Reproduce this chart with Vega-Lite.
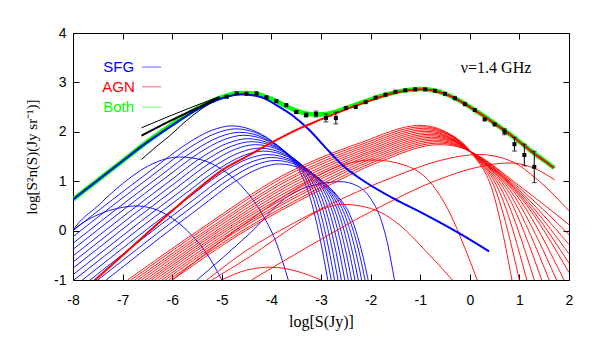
{
"$schema":"https://vega.github.io/schema/vega-lite/v6.json",
"width":496,"height":247,
"autosize":{"type":"none"},
"padding":{"left":73,"top":33,"right":29,"bottom":58},
"background":"white",
"config":{"view":{"stroke":"black","strokeWidth":1},"axis":{"grid":false,"domain":false,"tickColor":"black","labelColor":"black","titleColor":"black"}},
"datasets":{
"blue":[
{"c":"k0","x":-9.0,"y":-0.79},{"c":"k0","x":-8.0,"y":0.0},{"c":"k0","x":-7.2,"y":0.63},{"c":"k0","x":-6.4,"y":1.24},{"c":"k0","x":-5.7,"y":1.76},{"c":"k0","x":-5.2,"y":2.03},{"c":"k0","x":-4.8,"y":2.12},{"c":"k0","x":-4.3,"y":2.0},{"c":"k0","x":-3.9,"y":1.74},{"c":"k0","x":-3.6,"y":1.44},{"c":"k0","x":-3.4,"y":1.14},{"c":"k0","x":-3.2,"y":0.6},{"c":"k0","x":-3.02,"y":-0.16},{"c":"k0","x":-2.85,"y":-1.08},
{"c":"k1","x":-8.92,"y":-0.85},{"c":"k1","x":-7.92,"y":-0.06},{"c":"k1","x":-7.12,"y":0.57},{"c":"k1","x":-6.32,"y":1.18},{"c":"k1","x":-5.62,"y":1.7},{"c":"k1","x":-5.12,"y":1.97},{"c":"k1","x":-4.72,"y":2.06},{"c":"k1","x":-4.22,"y":1.94},{"c":"k1","x":-3.82,"y":1.68},{"c":"k1","x":-3.52,"y":1.38},{"c":"k1","x":-3.32,"y":1.08},{"c":"k1","x":-3.12,"y":0.54},{"c":"k1","x":-2.94,"y":-0.22},{"c":"k1","x":-2.77,"y":-1.14},
{"c":"k2","x":-8.84,"y":-0.92},{"c":"k2","x":-7.84,"y":-0.13},{"c":"k2","x":-7.04,"y":0.5},{"c":"k2","x":-6.24,"y":1.11},{"c":"k2","x":-5.54,"y":1.63},{"c":"k2","x":-5.04,"y":1.9},{"c":"k2","x":-4.64,"y":1.99},{"c":"k2","x":-4.14,"y":1.87},{"c":"k2","x":-3.74,"y":1.61},{"c":"k2","x":-3.44,"y":1.31},{"c":"k2","x":-3.24,"y":1.01},{"c":"k2","x":-3.04,"y":0.47},{"c":"k2","x":-2.86,"y":-0.29},{"c":"k2","x":-2.69,"y":-1.21},
{"c":"k3","x":-8.76,"y":-0.98},{"c":"k3","x":-7.76,"y":-0.19},{"c":"k3","x":-6.96,"y":0.44},{"c":"k3","x":-6.16,"y":1.05},{"c":"k3","x":-5.46,"y":1.57},{"c":"k3","x":-4.96,"y":1.84},{"c":"k3","x":-4.56,"y":1.93},{"c":"k3","x":-4.06,"y":1.81},{"c":"k3","x":-3.66,"y":1.55},{"c":"k3","x":-3.36,"y":1.25},{"c":"k3","x":-3.16,"y":0.95},{"c":"k3","x":-2.96,"y":0.41},{"c":"k3","x":-2.78,"y":-0.35},{"c":"k3","x":-2.61,"y":-1.27},
{"c":"k4","x":-8.68,"y":-1.05},{"c":"k4","x":-7.68,"y":-0.26},{"c":"k4","x":-6.88,"y":0.37},{"c":"k4","x":-6.08,"y":0.98},{"c":"k4","x":-5.38,"y":1.5},{"c":"k4","x":-4.88,"y":1.77},{"c":"k4","x":-4.48,"y":1.86},{"c":"k4","x":-3.98,"y":1.74},{"c":"k4","x":-3.58,"y":1.48},{"c":"k4","x":-3.28,"y":1.18},{"c":"k4","x":-3.08,"y":0.88},{"c":"k4","x":-2.88,"y":0.34},{"c":"k4","x":-2.7,"y":-0.42},{"c":"k4","x":-2.53,"y":-1.34},
{"c":"k5","x":-8.6,"y":-1.11},{"c":"k5","x":-7.6,"y":-0.32},{"c":"k5","x":-6.8,"y":0.31},{"c":"k5","x":-6.0,"y":0.92},{"c":"k5","x":-5.3,"y":1.44},{"c":"k5","x":-4.8,"y":1.71},{"c":"k5","x":-4.4,"y":1.8},{"c":"k5","x":-3.9,"y":1.68},{"c":"k5","x":-3.5,"y":1.42},{"c":"k5","x":-3.2,"y":1.12},{"c":"k5","x":-3.0,"y":0.82},{"c":"k5","x":-2.8,"y":0.28},{"c":"k5","x":-2.62,"y":-0.48},{"c":"k5","x":-2.45,"y":-1.4},
{"c":"k6","x":-8.52,"y":-1.17},{"c":"k6","x":-7.52,"y":-0.38},{"c":"k6","x":-6.72,"y":0.25},{"c":"k6","x":-5.92,"y":0.86},{"c":"k6","x":-5.22,"y":1.38},{"c":"k6","x":-4.72,"y":1.65},{"c":"k6","x":-4.32,"y":1.74},{"c":"k6","x":-3.82,"y":1.62},{"c":"k6","x":-3.42,"y":1.36},{"c":"k6","x":-3.12,"y":1.06},{"c":"k6","x":-2.92,"y":0.76},{"c":"k6","x":-2.72,"y":0.22},{"c":"k6","x":-2.54,"y":-0.54},{"c":"k6","x":-2.37,"y":-1.46},
{"c":"k7","x":-8.44,"y":-1.24},{"c":"k7","x":-7.44,"y":-0.45},{"c":"k7","x":-6.64,"y":0.18},{"c":"k7","x":-5.84,"y":0.79},{"c":"k7","x":-5.14,"y":1.31},{"c":"k7","x":-4.64,"y":1.58},{"c":"k7","x":-4.24,"y":1.67},{"c":"k7","x":-3.74,"y":1.55},{"c":"k7","x":-3.34,"y":1.29},{"c":"k7","x":-3.04,"y":0.99},{"c":"k7","x":-2.84,"y":0.69},{"c":"k7","x":-2.64,"y":0.15},{"c":"k7","x":-2.46,"y":-0.61},{"c":"k7","x":-2.29,"y":-1.53},
{"c":"k8","x":-8.36,"y":-1.3},{"c":"k8","x":-7.36,"y":-0.51},{"c":"k8","x":-6.56,"y":0.12},{"c":"k8","x":-5.76,"y":0.73},{"c":"k8","x":-5.06,"y":1.25},{"c":"k8","x":-4.56,"y":1.52},{"c":"k8","x":-4.16,"y":1.61},{"c":"k8","x":-3.66,"y":1.49},{"c":"k8","x":-3.26,"y":1.23},{"c":"k8","x":-2.96,"y":0.93},{"c":"k8","x":-2.76,"y":0.63},{"c":"k8","x":-2.56,"y":0.09},{"c":"k8","x":-2.38,"y":-0.67},{"c":"k8","x":-2.21,"y":-1.59},
{"c":"k9","x":-8.28,"y":-1.37},{"c":"k9","x":-7.28,"y":-0.58},{"c":"k9","x":-6.48,"y":0.05},{"c":"k9","x":-5.68,"y":0.66},{"c":"k9","x":-4.98,"y":1.18},{"c":"k9","x":-4.48,"y":1.45},{"c":"k9","x":-4.08,"y":1.54},{"c":"k9","x":-3.58,"y":1.42},{"c":"k9","x":-3.18,"y":1.16},{"c":"k9","x":-2.88,"y":0.86},{"c":"k9","x":-2.68,"y":0.56},{"c":"k9","x":-2.48,"y":0.02},{"c":"k9","x":-2.3,"y":-0.74},{"c":"k9","x":-2.13,"y":-1.66},
{"c":"k10","x":-8.2,"y":-1.43},{"c":"k10","x":-7.2,"y":-0.64},{"c":"k10","x":-6.4,"y":-0.01},{"c":"k10","x":-5.6,"y":0.6},{"c":"k10","x":-4.9,"y":1.12},{"c":"k10","x":-4.4,"y":1.39},{"c":"k10","x":-4.0,"y":1.48},{"c":"k10","x":-3.5,"y":1.36},{"c":"k10","x":-3.1,"y":1.1},{"c":"k10","x":-2.8,"y":0.8},{"c":"k10","x":-2.6,"y":0.5},{"c":"k10","x":-2.4,"y":-0.04},{"c":"k10","x":-2.22,"y":-0.8},{"c":"k10","x":-2.05,"y":-1.72},
{"c":"k11","x":-8.12,"y":-1.49},{"c":"k11","x":-7.12,"y":-0.7},{"c":"k11","x":-6.32,"y":-0.07},{"c":"k11","x":-5.52,"y":0.54},{"c":"k11","x":-4.82,"y":1.06},{"c":"k11","x":-4.32,"y":1.33},{"c":"k11","x":-3.92,"y":1.42},{"c":"k11","x":-3.42,"y":1.3},{"c":"k11","x":-3.02,"y":1.04},{"c":"k11","x":-2.72,"y":0.74},{"c":"k11","x":-2.52,"y":0.44},{"c":"k11","x":-2.32,"y":-0.1},{"c":"k11","x":-2.14,"y":-0.86},{"c":"k11","x":-1.97,"y":-1.78},
{"c":"k12","x":-8.04,"y":-1.56},{"c":"k12","x":-7.04,"y":-0.77},{"c":"k12","x":-6.24,"y":-0.14},{"c":"k12","x":-5.44,"y":0.47},{"c":"k12","x":-4.74,"y":0.99},{"c":"k12","x":-4.24,"y":1.26},{"c":"k12","x":-3.84,"y":1.35},{"c":"k12","x":-3.34,"y":1.23},{"c":"k12","x":-2.94,"y":0.97},{"c":"k12","x":-2.64,"y":0.67},{"c":"k12","x":-2.44,"y":0.37},{"c":"k12","x":-2.24,"y":-0.19},{"c":"k12","x":-2.06,"y":-0.95},{"c":"k12","x":-1.89,"y":-1.87},
{"c":"ba","x":-8.3,"y":-0.35},{"c":"ba","x":-8.0,"y":0.0},{"c":"ba","x":-7.5,"y":0.32},{"c":"ba","x":-7.0,"y":0.47},{"c":"ba","x":-6.75,"y":0.5},{"c":"ba","x":-6.4,"y":0.45},{"c":"ba","x":-6.0,"y":0.25},{"c":"ba","x":-5.6,"y":-0.1},{"c":"ba","x":-5.3,"y":-0.47},{"c":"ba","x":-5.0,"y":-1.0},
{"c":"bb","x":-8.3,"y":-0.6},{"c":"bb","x":-8.0,"y":0.0},{"c":"bb","x":-7.5,"y":0.5},{"c":"bb","x":-7.0,"y":0.95},{"c":"bb","x":-6.5,"y":1.3},{"c":"bb","x":-6.1,"y":1.46},{"c":"bb","x":-5.85,"y":1.49},{"c":"bb","x":-5.4,"y":1.43},{"c":"bb","x":-5.0,"y":1.24},{"c":"bb","x":-4.6,"y":0.9},{"c":"bb","x":-4.2,"y":0.36},{"c":"bb","x":-3.9,"y":-0.25},{"c":"bb","x":-3.66,"y":-1.0},
{"c":"bc","x":-5.5,"y":-1.0},{"c":"bc","x":-4.44,"y":-0.06},{"c":"bc","x":-3.63,"y":0.72},{"c":"bc","x":-3.0,"y":0.95},{"c":"bc","x":-2.6,"y":0.99},{"c":"bc","x":-2.3,"y":0.92},{"c":"bc","x":-2.0,"y":0.65},{"c":"bc","x":-1.8,"y":0.25},{"c":"bc","x":-1.65,"y":-0.3},{"c":"bc","x":-1.52,"y":-1.0}
],
"red":[
{"c":"j0","x":-6.9,"y":-1.0},{"c":"j0","x":-5.3,"y":0.12},{"c":"j0","x":-3.8,"y":1.1},{"c":"j0","x":-2.2,"y":1.78},{"c":"j0","x":-1.0,"y":2.13},{"c":"j0","x":-0.45,"y":1.98},{"c":"j0","x":0.07,"y":1.53},{"c":"j0","x":0.46,"y":0.8},{"c":"j0","x":0.85,"y":-1.0},
{"c":"j1","x":-6.83,"y":-1.0},{"c":"j1","x":-5.25,"y":0.11},{"c":"j1","x":-3.75,"y":1.08},{"c":"j1","x":-2.17,"y":1.75},{"c":"j1","x":-0.97,"y":2.1},{"c":"j1","x":-0.43,"y":1.96},{"c":"j1","x":0.07,"y":1.53},{"c":"j1","x":0.535,"y":0.78},{"c":"j1","x":1.0,"y":-1.0},
{"c":"j2","x":-6.76,"y":-1.0},{"c":"j2","x":-5.19,"y":0.09},{"c":"j2","x":-3.69,"y":1.05},{"c":"j2","x":-2.14,"y":1.72},{"c":"j2","x":-0.94,"y":2.07},{"c":"j2","x":-0.42,"y":1.94},{"c":"j2","x":0.07,"y":1.54},{"c":"j2","x":0.61,"y":0.76},{"c":"j2","x":1.15,"y":-1.0},
{"c":"j3","x":-6.69,"y":-1.0},{"c":"j3","x":-5.14,"y":0.08},{"c":"j3","x":-3.64,"y":1.03},{"c":"j3","x":-2.11,"y":1.69},{"c":"j3","x":-0.91,"y":2.04},{"c":"j3","x":-0.4,"y":1.92},{"c":"j3","x":0.07,"y":1.54},{"c":"j3","x":0.685,"y":0.74},{"c":"j3","x":1.3,"y":-1.0},
{"c":"j4","x":-6.62,"y":-1.0},{"c":"j4","x":-5.08,"y":0.07},{"c":"j4","x":-3.58,"y":1.0},{"c":"j4","x":-2.08,"y":1.66},{"c":"j4","x":-0.88,"y":2.01},{"c":"j4","x":-0.39,"y":1.89},{"c":"j4","x":0.07,"y":1.54},{"c":"j4","x":0.76,"y":0.72},{"c":"j4","x":1.45,"y":-1.0},
{"c":"j5","x":-6.55,"y":-1.0},{"c":"j5","x":-5.03,"y":0.05},{"c":"j5","x":-3.53,"y":0.98},{"c":"j5","x":-2.05,"y":1.63},{"c":"j5","x":-0.85,"y":1.98},{"c":"j5","x":-0.37,"y":1.87},{"c":"j5","x":0.07,"y":1.55},{"c":"j5","x":0.835,"y":0.7},{"c":"j5","x":1.6,"y":-1.0},
{"c":"j6","x":-6.48,"y":-1.0},{"c":"j6","x":-4.98,"y":0.04},{"c":"j6","x":-3.48,"y":0.95},{"c":"j6","x":-2.02,"y":1.6},{"c":"j6","x":-0.82,"y":1.95},{"c":"j6","x":-0.36,"y":1.85},{"c":"j6","x":0.07,"y":1.55},{"c":"j6","x":0.91,"y":0.68},{"c":"j6","x":1.75,"y":-1.0},
{"c":"j7","x":-6.42,"y":-1.0},{"c":"j7","x":-4.92,"y":0.03},{"c":"j7","x":-3.42,"y":0.93},{"c":"j7","x":-1.98,"y":1.58},{"c":"j7","x":-0.8,"y":1.92},{"c":"j7","x":-0.34,"y":1.83},{"c":"j7","x":0.07,"y":1.55},{"c":"j7","x":0.985,"y":0.66},{"c":"j7","x":1.9,"y":-1.0},
{"c":"j8","x":-6.35,"y":-1.0},{"c":"j8","x":-4.87,"y":0.02},{"c":"j8","x":-3.37,"y":0.9},{"c":"j8","x":-1.95,"y":1.55},{"c":"j8","x":-0.77,"y":1.89},{"c":"j8","x":-0.33,"y":1.81},{"c":"j8","x":0.07,"y":1.55},{"c":"j8","x":1.035,"y":0.66},{"c":"j8","x":2.0,"y":-0.85},
{"c":"j9","x":-6.28,"y":-1.0},{"c":"j9","x":-4.82,"y":0.0},{"c":"j9","x":-3.32,"y":0.88},{"c":"j9","x":-1.92,"y":1.52},{"c":"j9","x":-0.74,"y":1.86},{"c":"j9","x":-0.31,"y":1.79},{"c":"j9","x":0.07,"y":1.56},{"c":"j9","x":1.035,"y":0.7},{"c":"j9","x":2.0,"y":-0.66},
{"c":"j10","x":-6.21,"y":-1.0},{"c":"j10","x":-4.76,"y":-0.01},{"c":"j10","x":-3.26,"y":0.85},{"c":"j10","x":-1.89,"y":1.49},{"c":"j10","x":-0.71,"y":1.83},{"c":"j10","x":-0.3,"y":1.76},{"c":"j10","x":0.07,"y":1.56},{"c":"j10","x":1.035,"y":0.74},{"c":"j10","x":2.0,"y":-0.47},
{"c":"j11","x":-6.14,"y":-1.0},{"c":"j11","x":-4.71,"y":-0.02},{"c":"j11","x":-3.21,"y":0.83},{"c":"j11","x":-1.86,"y":1.46},{"c":"j11","x":-0.68,"y":1.8},{"c":"j11","x":-0.28,"y":1.74},{"c":"j11","x":0.07,"y":1.56},{"c":"j11","x":1.035,"y":0.78},{"c":"j11","x":2.0,"y":-0.28},
{"c":"j12","x":-6.07,"y":-1.0},{"c":"j12","x":-4.65,"y":-0.04},{"c":"j12","x":-3.15,"y":0.8},{"c":"j12","x":-1.83,"y":1.43},{"c":"j12","x":-0.65,"y":1.77},{"c":"j12","x":-0.27,"y":1.72},{"c":"j12","x":0.07,"y":1.57},{"c":"j12","x":1.035,"y":0.83},{"c":"j12","x":2.0,"y":-0.08},
{"c":"j13","x":-6.0,"y":-1.0},{"c":"j13","x":-4.6,"y":-0.05},{"c":"j13","x":-3.1,"y":0.78},{"c":"j13","x":-1.8,"y":1.4},{"c":"j13","x":-0.62,"y":1.74},{"c":"j13","x":-0.25,"y":1.7},{"c":"j13","x":0.07,"y":1.57},{"c":"j13","x":1.035,"y":0.88},{"c":"j13","x":2.0,"y":0.12},
{"c":"ra","x":-5.0,"y":-1.0},{"c":"ra","x":-4.5,"y":-0.8},{"c":"ra","x":-4.0,"y":-0.74},{"c":"ra","x":-3.5,"y":-0.82},{"c":"ra","x":-3.0,"y":-1.0},
{"c":"rb","x":-5.2,"y":-1.0},{"c":"rb","x":-4.44,"y":-0.53},{"c":"rb","x":-3.5,"y":0.12},{"c":"rb","x":-3.0,"y":0.42},{"c":"rb","x":-2.55,"y":0.53},{"c":"rb","x":-2.0,"y":0.45},{"c":"rb","x":-1.4,"y":0.1},{"c":"rb","x":-0.9,"y":-0.4},{"c":"rb","x":-0.35,"y":-1.0},
{"c":"rc","x":-6.0,"y":-1.0},{"c":"rc","x":-4.44,"y":0.21},{"c":"rc","x":-3.5,"y":0.85},{"c":"rc","x":-2.7,"y":1.28},{"c":"rc","x":-1.95,"y":1.43},{"c":"rc","x":-1.3,"y":1.32},{"c":"rc","x":-0.8,"y":0.98},{"c":"rc","x":-0.4,"y":0.35},{"c":"rc","x":-0.1,"y":-0.35},{"c":"rc","x":0.15,"y":-1.0},
{"c":"rd","x":-5.3,"y":-1.0},{"c":"rd","x":-4.5,"y":-0.4},{"c":"rd","x":-3.63,"y":0.11},{"c":"rd","x":-2.5,"y":0.68},{"c":"rd","x":-1.5,"y":1.1},{"c":"rd","x":-0.6,"y":1.42},{"c":"rd","x":0.2,"y":1.54},{"c":"rd","x":0.8,"y":1.42},{"c":"rd","x":1.4,"y":1.0},{"c":"rd","x":2.0,"y":0.4},
{"c":"re","x":-4.4,"y":-1.0},{"c":"re","x":-3.3,"y":-0.35},{"c":"re","x":-2.0,"y":0.38},{"c":"re","x":-0.61,"y":1.04},{"c":"re","x":0.1,"y":1.27},{"c":"re","x":0.8,"y":1.37},{"c":"re","x":1.2,"y":1.3},{"c":"re","x":1.71,"y":1.03}
],
"tot":[
{"c":"both","x":-8.0,"y":0.63},{"c":"both","x":-7.5,"y":1.02},{"c":"both","x":-7.0,"y":1.41},{"c":"both","x":-6.5,"y":1.8},{"c":"both","x":-6.0,"y":2.15},{"c":"both","x":-5.5,"y":2.47},{"c":"both","x":-5.0,"y":2.7},{"c":"both","x":-4.7,"y":2.78},{"c":"both","x":-4.5,"y":2.785},{"c":"both","x":-4.3,"y":2.77},{"c":"both","x":-4.1,"y":2.7},{"c":"both","x":-3.9,"y":2.62},{"c":"both","x":-3.7,"y":2.52},{"c":"both","x":-3.5,"y":2.43},{"c":"both","x":-3.3,"y":2.37},{"c":"both","x":-3.1,"y":2.35},{"c":"both","x":-2.9,"y":2.36},{"c":"both","x":-2.7,"y":2.41},{"c":"both","x":-2.5,"y":2.48},{"c":"both","x":-2.3,"y":2.55},{"c":"both","x":-2.1,"y":2.62},{"c":"both","x":-1.9,"y":2.69},{"c":"both","x":-1.7,"y":2.75},{"c":"both","x":-1.5,"y":2.8},{"c":"both","x":-1.3,"y":2.84},{"c":"both","x":-1.1,"y":2.855},{"c":"both","x":-1.0,"y":2.865},{"c":"both","x":-0.9,"y":2.86},{"c":"both","x":-0.7,"y":2.83},{"c":"both","x":-0.5,"y":2.77},{"c":"both","x":-0.3,"y":2.68},{"c":"both","x":-0.1,"y":2.57},{"c":"both","x":0.1,"y":2.44},{"c":"both","x":0.3,"y":2.31},{"c":"both","x":0.5,"y":2.17},{"c":"both","x":0.7,"y":2.03},{"c":"both","x":0.9,"y":1.88},{"c":"both","x":1.1,"y":1.72},{"c":"both","x":1.3,"y":1.56},{"c":"both","x":1.5,"y":1.42},{"c":"both","x":1.7,"y":1.27},
{"c":"sfg","x":-8.0,"y":0.63},{"c":"sfg","x":-7.5,"y":1.02},{"c":"sfg","x":-7.0,"y":1.41},{"c":"sfg","x":-6.5,"y":1.79},{"c":"sfg","x":-6.0,"y":2.13},{"c":"sfg","x":-5.5,"y":2.45},{"c":"sfg","x":-5.0,"y":2.68},{"c":"sfg","x":-4.6,"y":2.76},{"c":"sfg","x":-4.2,"y":2.7},{"c":"sfg","x":-3.9,"y":2.54},{"c":"sfg","x":-3.56,"y":2.32},{"c":"sfg","x":-3.23,"y":2.03},{"c":"sfg","x":-2.89,"y":1.66},{"c":"sfg","x":-2.55,"y":1.31},{"c":"sfg","x":-2.22,"y":1.06},{"c":"sfg","x":-1.54,"y":0.65},{"c":"sfg","x":-0.87,"y":0.31},{"c":"sfg","x":-0.2,"y":-0.06},{"c":"sfg","x":0.39,"y":-0.42},
{"c":"agn","x":-7.6,"y":-1.04},{"c":"agn","x":-7.0,"y":-0.5},{"c":"agn","x":-6.5,"y":-0.05},{"c":"agn","x":-6.0,"y":0.4},{"c":"agn","x":-5.5,"y":0.83},{"c":"agn","x":-5.0,"y":1.22},{"c":"agn","x":-4.5,"y":1.5},{"c":"agn","x":-4.0,"y":1.78},{"c":"agn","x":-3.43,"y":2.07},{"c":"agn","x":-3.0,"y":2.25},{"c":"agn","x":-2.56,"y":2.43},{"c":"agn","x":-2.1,"y":2.6},{"c":"agn","x":-1.9,"y":2.67},{"c":"agn","x":-1.7,"y":2.74},{"c":"agn","x":-1.5,"y":2.79},{"c":"agn","x":-1.3,"y":2.83},{"c":"agn","x":-1.1,"y":2.85},{"c":"agn","x":-1.0,"y":2.86},{"c":"agn","x":-0.9,"y":2.855},{"c":"agn","x":-0.7,"y":2.825},{"c":"agn","x":-0.5,"y":2.765},{"c":"agn","x":-0.3,"y":2.675},{"c":"agn","x":-0.1,"y":2.565},{"c":"agn","x":0.1,"y":2.435},{"c":"agn","x":0.3,"y":2.305},{"c":"agn","x":0.5,"y":2.165},{"c":"agn","x":0.7,"y":2.025},{"c":"agn","x":0.9,"y":1.875},{"c":"agn","x":1.1,"y":1.715},{"c":"agn","x":1.3,"y":1.555},{"c":"agn","x":1.5,"y":1.415},{"c":"agn","x":1.7,"y":1.265}
],
"blk":[
{"c":"t1","x":-6.62,"y":2.08},{"c":"t1","x":-6.0,"y":2.34},{"c":"t1","x":-5.5,"y":2.54},{"c":"t1","x":-5.05,"y":2.71},
{"c":"t2","x":-6.62,"y":1.92},{"c":"t2","x":-6.0,"y":2.24},{"c":"t2","x":-5.5,"y":2.48},{"c":"t2","x":-5.05,"y":2.7},
{"c":"t3","x":-6.62,"y":1.44},{"c":"t3","x":-6.32,"y":1.7},{"c":"t3","x":-6.05,"y":1.92},{"c":"t3","x":-5.72,"y":2.22},{"c":"t3","x":-5.4,"y":2.47},{"c":"t3","x":-5.05,"y":2.69}
],
"pts":[
{"x":-4.9,"y":2.71},{"x":-4.7,"y":2.78},{"x":-4.5,"y":2.77},{"x":-4.3,"y":2.78},{"x":-4.1,"y":2.7},{"x":-3.9,"y":2.62},{"x":-3.7,"y":2.54},{"x":-3.5,"y":2.4,"lo":2.37,"hi":2.43},{"x":-3.3,"y":2.34,"lo":2.3,"hi":2.38},{"x":-3.1,"y":2.36,"lo":2.3,"hi":2.42},{"x":-2.9,"y":2.28,"lo":2.2,"hi":2.36},{"x":-2.7,"y":2.28,"lo":2.16,"hi":2.4},{"x":-2.5,"y":2.48},{"x":-2.3,"y":2.5},{"x":-2.1,"y":2.6},{"x":-1.9,"y":2.69},{"x":-1.7,"y":2.75},{"x":-1.5,"y":2.81},{"x":-1.3,"y":2.84},{"x":-1.1,"y":2.86},{"x":-0.9,"y":2.86},{"x":-0.7,"y":2.83},{"x":-0.5,"y":2.77},{"x":-0.3,"y":2.68},{"x":-0.1,"y":2.56},{"x":0.1,"y":2.44},{"x":0.3,"y":2.25},{"x":0.5,"y":2.15},{"x":0.7,"y":2.0,"lo":1.94,"hi":2.06},{"x":0.9,"y":1.75,"lo":1.61,"hi":1.89},{"x":1.1,"y":1.53,"lo":1.31,"hi":1.75},{"x":1.3,"y":1.29,"lo":0.97,"hi":1.61}
],
"legt":[{"t":"SFG","x":-7.39,"y":3.31},{"t":"AGN","x":-7.41,"y":2.91},{"t":"Both","x":-7.39,"y":2.5}],
"legl":[{"t":"SFG","x":-6.61,"y":3.31},{"t":"SFG","x":-6.22,"y":3.31},{"t":"AGN","x":-6.61,"y":2.91},{"t":"AGN","x":-6.22,"y":2.91},{"t":"Both","x":-6.61,"y":2.5},{"t":"Both","x":-6.22,"y":2.5}],
"ann":[{"t":"ν=1.4 GHz","x":0.53,"y":3.29}]
},
"resolve":{"axis":{"x":"independent","y":"independent"}},
"layer":[
{"data":{"name":"blue"},"mark":{"type":"line","clip":true,"strokeWidth":0.9,"color":"#0000ff","interpolate":"monotone"},
 "encoding":{"x":{"field":"x","type":"quantitative","scale":{"domain":[-8,2],"nice":false,"zero":false},"axis":{"orient":"bottom","values":[-8,-7,-6,-5,-4,-3,-2,-1,0,1,2],"tickSize":-6,"labelPadding":19,"labelExpr":"'' + datum.value","labelFont":"Liberation Sans","labelFontSize":14,"labelFlush":false,"title":"log[S(Jy)]","titleFont":"Liberation Serif","titleFontSize":16,"titleFontWeight":"normal","titlePadding":6}},
  "y":{"field":"y","type":"quantitative","scale":{"domain":[-1,4],"nice":false,"zero":false},"axis":{"orient":"left","values":[-1,0,1,2,3,4],"tickSize":-6,"labelPadding":13,"labelExpr":"'' + datum.value","labelFont":"Liberation Sans","labelFontSize":14,"labelFlush":false,"title":"log[S²n(S)(Jy sr⁻¹)]","titleFont":"Liberation Serif","titleFontSize":15,"titleFontWeight":"normal","titlePadding":14}},
  "detail":{"field":"c"}}},
{"data":{"name":"red"},"mark":{"type":"line","clip":true,"strokeWidth":0.9,"color":"#ff0000","interpolate":"monotone"},
 "encoding":{"x":{"field":"x","type":"quantitative","scale":{"domain":[-8,2],"nice":false,"zero":false},"axis":{"orient":"top","values":[-8,-7,-6,-5,-4,-3,-2,-1,0,1,2],"tickSize":-6,"labels":false,"title":null}},
  "y":{"field":"y","type":"quantitative","scale":{"domain":[-1,4],"nice":false,"zero":false},"axis":{"orient":"right","values":[-1,0,1,2,3,4],"tickSize":-6,"labels":false,"title":null}},
  "detail":{"field":"c"}}},
{"data":{"name":"tot"},"transform":[{"filter":"datum.c == 'both'"}],"mark":{"type":"line","clip":true,"strokeWidth":4.5,"color":"#00ff00","interpolate":"monotone"},
 "encoding":{"x":{"field":"x","type":"quantitative","scale":{"domain":[-8,2],"nice":false,"zero":false},"axis":null},"y":{"field":"y","type":"quantitative","scale":{"domain":[-1,4],"nice":false,"zero":false},"axis":null}}},
{"data":{"name":"tot"},"transform":[{"filter":"datum.c == 'sfg'"}],"mark":{"type":"line","clip":true,"strokeWidth":2,"color":"#0000ff","interpolate":"monotone"},
 "encoding":{"x":{"field":"x","type":"quantitative","scale":{"domain":[-8,2],"nice":false,"zero":false},"axis":null},"y":{"field":"y","type":"quantitative","scale":{"domain":[-1,4],"nice":false,"zero":false},"axis":null}}},
{"data":{"name":"tot"},"transform":[{"filter":"datum.c == 'agn'"}],"mark":{"type":"line","clip":true,"strokeWidth":2,"color":"#ff0000","interpolate":"monotone"},
 "encoding":{"x":{"field":"x","type":"quantitative","scale":{"domain":[-8,2],"nice":false,"zero":false},"axis":null},"y":{"field":"y","type":"quantitative","scale":{"domain":[-1,4],"nice":false,"zero":false},"axis":null}}},
{"data":{"name":"blk"},"transform":[{"filter":"datum.c != 't2'"}],"mark":{"type":"line","clip":true,"strokeWidth":1,"color":"black","interpolate":"monotone"},
 "encoding":{"x":{"field":"x","type":"quantitative","scale":{"domain":[-8,2],"nice":false,"zero":false},"axis":null},"y":{"field":"y","type":"quantitative","scale":{"domain":[-1,4],"nice":false,"zero":false},"axis":null},"detail":{"field":"c"}}},
{"data":{"name":"blk"},"transform":[{"filter":"datum.c == 't2'"}],"mark":{"type":"line","clip":true,"strokeWidth":2,"color":"black","interpolate":"monotone"},
 "encoding":{"x":{"field":"x","type":"quantitative","scale":{"domain":[-8,2],"nice":false,"zero":false},"axis":null},"y":{"field":"y","type":"quantitative","scale":{"domain":[-1,4],"nice":false,"zero":false},"axis":null}}},
{"data":{"name":"pts"},"transform":[{"filter":"isValid(datum.lo)"}],"mark":{"type":"rule","color":"black","strokeWidth":1},
 "encoding":{"x":{"field":"x","type":"quantitative","scale":{"domain":[-8,2],"nice":false,"zero":false},"axis":null},"y":{"field":"lo","type":"quantitative","scale":{"domain":[-1,4],"nice":false,"zero":false},"axis":null},"y2":{"field":"hi"}}},
{"data":{"name":"pts"},"transform":[{"filter":"isValid(datum.lo)"}],"mark":{"type":"tick","orient":"horizontal","size":5,"thickness":1,"color":"black"},
 "encoding":{"x":{"field":"x","type":"quantitative","scale":{"domain":[-8,2],"nice":false,"zero":false},"axis":null},"y":{"field":"lo","type":"quantitative","scale":{"domain":[-1,4],"nice":false,"zero":false},"axis":null}}},
{"data":{"name":"pts"},"transform":[{"filter":"isValid(datum.lo)"}],"mark":{"type":"tick","orient":"horizontal","size":5,"thickness":1,"color":"black"},
 "encoding":{"x":{"field":"x","type":"quantitative","scale":{"domain":[-8,2],"nice":false,"zero":false},"axis":null},"y":{"field":"hi","type":"quantitative","scale":{"domain":[-1,4],"nice":false,"zero":false},"axis":null}}},
{"data":{"name":"pts"},"mark":{"type":"point","shape":"square","filled":true,"size":16,"color":"black","opacity":1},
 "encoding":{"x":{"field":"x","type":"quantitative","scale":{"domain":[-8,2],"nice":false,"zero":false},"axis":null},"y":{"field":"y","type":"quantitative","scale":{"domain":[-1,4],"nice":false,"zero":false},"axis":null}}},
{"data":{"name":"legl"},"mark":{"type":"line","strokeWidth":1,"opacity":0.6},
 "encoding":{"x":{"field":"x","type":"quantitative","scale":{"domain":[-8,2],"nice":false,"zero":false},"axis":null},"y":{"field":"y","type":"quantitative","scale":{"domain":[-1,4],"nice":false,"zero":false},"axis":null},"color":{"field":"t","type":"nominal","scale":{"domain":["SFG","AGN","Both"],"range":["#0000ff","#ff0000","#00ff00"]},"legend":null}}},
{"data":{"name":"legt"},"mark":{"type":"text","align":"left","baseline":"middle","font":"Liberation Sans","fontSize":15},
 "encoding":{"x":{"field":"x","type":"quantitative","scale":{"domain":[-8,2],"nice":false,"zero":false},"axis":null},"y":{"field":"y","type":"quantitative","scale":{"domain":[-1,4],"nice":false,"zero":false},"axis":null},"text":{"field":"t"},"color":{"field":"t","type":"nominal","scale":{"domain":["SFG","AGN","Both"],"range":["#0000ff","#ff0000","#00ff00"]},"legend":null}}},
{"data":{"name":"ann"},"mark":{"type":"text","align":"center","baseline":"middle","font":"Liberation Serif","fontSize":16,"color":"black"},
 "encoding":{"x":{"field":"x","type":"quantitative","scale":{"domain":[-8,2],"nice":false,"zero":false},"axis":null},"y":{"field":"y","type":"quantitative","scale":{"domain":[-1,4],"nice":false,"zero":false},"axis":null},"text":{"field":"t"}}}
]
}
